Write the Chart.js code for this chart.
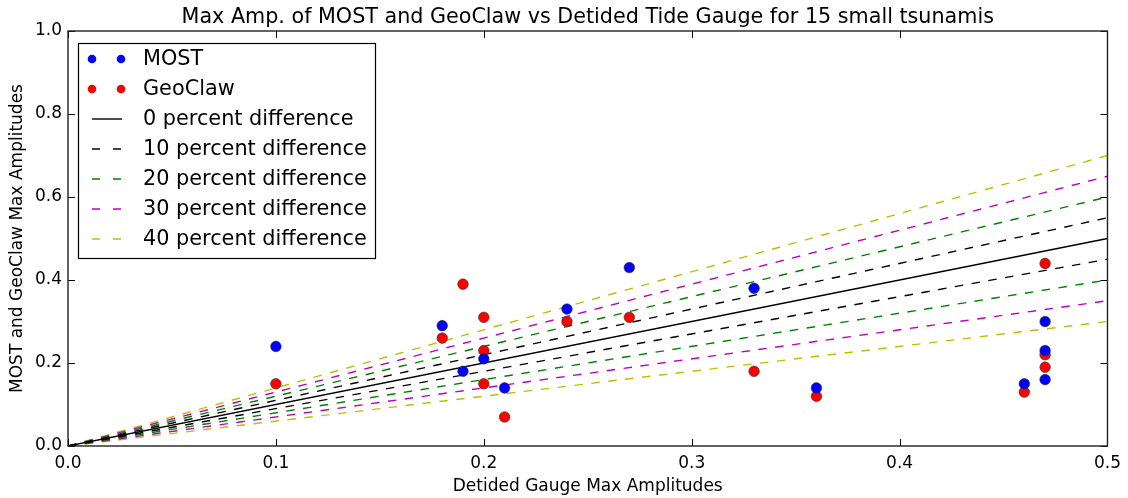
<!DOCTYPE html>
<html>
<head>
<meta charset="utf-8">
<script src="https://cdn.jsdelivr.net/npm/chart.js@4.4.1/dist/chart.umd.min.js"></script>
<style>
  html, body { margin: 0; padding: 0; background: #fff; }
  #wrap { width: 1128px; height: 498px; }
</style>
</head>
<body>
<div id="wrap"><canvas id="ampChart" width="1128" height="498"></canvas></div>
<script>
// gauge amplitudes (x) and modelled amplitudes (y)
const mostX = [0.10, 0.18, 0.19, 0.20, 0.21, 0.24, 0.27, 0.33, 0.36, 0.46, 0.47, 0.47, 0.47];
const mostY = [0.24, 0.29, 0.18, 0.21, 0.14, 0.33, 0.43, 0.38, 0.14, 0.15, 0.30, 0.23, 0.16];
const geoX = [0.10, 0.18, 0.19, 0.20, 0.20, 0.20, 0.21, 0.24, 0.27, 0.33, 0.36, 0.46, 0.47, 0.47, 0.47];
const geoY = [0.15, 0.26, 0.39, 0.31, 0.23, 0.15, 0.07, 0.30, 0.31, 0.18, 0.12, 0.13, 0.44, 0.22, 0.19];

// reference lines: start at origin, end values at x = 0.5
const lineX = [0, 0.5];
const percents = [0, 10, 20, 30, 40];
const upperEnd = [0.50, 0.55, 0.60, 0.65, 0.70];
const lowerEnd = [0.50, 0.45, 0.40, 0.35, 0.30];
const lineColors = ['#000000', '#000000', '#008000', '#bf00bf', '#bfbf00'];

const xTicks = [0, 0.1, 0.2, 0.3, 0.4, 0.5];
const yTicks = [0, 0.2, 0.4, 0.6, 0.8, 1.0];

const chartTitle = 'Max Amp. of MOST and GeoClaw vs Detided Tide Gauge for 15 small tsunamis';
const FONT = '"DejaVu Sans", sans-serif';

function pts(xs, ys) {
  return xs.map((x, i) => ({ x, y: ys[i] }));
}

const datasets = [
  {
    label: 'MOST',
    data: pts(mostX, mostY),
    backgroundColor: '#0000ff',
    borderColor: '#333333',
    borderWidth: 0.6,
    pointRadius: 5.3,
    showLine: false,
  },
  {
    label: 'GeoClaw',
    data: pts(geoX, geoY),
    backgroundColor: '#ff0000',
    borderColor: '#333333',
    borderWidth: 0.6,
    pointRadius: 5.3,
    showLine: false,
  },
];

percents.forEach((p, i) => {
  const dash = p === 0 ? [] : [8.5, 8.5];
  datasets.push({
    label: p + ' percent difference',
    data: pts(lineX, [0, upperEnd[i]]),
    borderColor: lineColors[i],
    borderWidth: 1.4,
    borderDash: dash,
    pointRadius: 0,
    showLine: true,
    inLegend: true,
  });
  if (p !== 0) {
    datasets.push({
      label: p + ' percent difference (lower)',
      data: pts(lineX, [0, lowerEnd[i]]),
      borderColor: lineColors[i],
      borderWidth: 1.4,
      borderDash: dash,
      pointRadius: 0,
      showLine: true,
      inLegend: false,
    });
  }
});

// frame + inward ticks on all four sides, title centred over the axes
const framePlugin = {
  id: 'frame',
  afterDatasetsDraw(chart) {
    const { ctx, chartArea: a, scales } = chart;
    ctx.save();
    ctx.strokeStyle = '#000';
    ctx.lineWidth = 1;
    xTicks.forEach(v => {
      const px = Math.round(scales.x.getPixelForValue(v)) + 0.5;
      ctx.beginPath();
      ctx.moveTo(px, a.bottom); ctx.lineTo(px, a.bottom - 7);
      ctx.moveTo(px, a.top); ctx.lineTo(px, a.top + 7);
      ctx.stroke();
    });
    yTicks.forEach(v => {
      const py = Math.round(scales.y.getPixelForValue(v)) + 0.5;
      ctx.beginPath();
      ctx.moveTo(a.left, py); ctx.lineTo(a.left + 7, py);
      ctx.moveTo(a.right, py); ctx.lineTo(a.right - 7, py);
      ctx.stroke();
    });
    ctx.lineWidth = 1.4;
    ctx.strokeStyle = '#222';
    ctx.strokeRect(a.left, a.top, a.right - a.left, a.bottom - a.top);

    ctx.fillStyle = '#000';
    ctx.font = '20.7px ' + FONT;
    ctx.textAlign = 'center';
    ctx.textBaseline = 'middle';
    ctx.fillText(chartTitle, (a.left + a.right) / 2, 18);
    ctx.restore();
  },
};

// matplotlib-like legend: two markers per scatter entry, short line sample for lines
const legendPlugin = {
  id: 'mplLegend',
  afterDraw(chart) {
    const { ctx, chartArea: a } = chart;
    const items = chart.data.datasets.filter(d => d.inLegend !== false);
    const x0 = a.left + 10, y0 = a.top + 12;
    const w = 297, h = 215, rowH = 30;
    ctx.save();
    ctx.fillStyle = '#fff';
    ctx.fillRect(x0, y0, w, h);
    ctx.strokeStyle = '#000';
    ctx.lineWidth = 1.2;
    ctx.strokeRect(x0 + 0.5, y0 + 0.5, w, h);
    ctx.font = '20.8px ' + FONT;
    ctx.textBaseline = 'middle';
    items.forEach((d, i) => {
      const cy = y0 + 16 + i * rowH;
      if (d.showLine) {
        ctx.strokeStyle = d.borderColor;
        ctx.lineWidth = 1.4;
        ctx.setLineDash(d.borderDash.length ? [8, 13] : []);
        ctx.beginPath();
        ctx.moveTo(x0 + 14, cy); ctx.lineTo(x0 + 44, cy);
        ctx.stroke();
        ctx.setLineDash([]);
      } else {
        [x0 + 14, x0 + 43].forEach(mx => {
          ctx.beginPath();
          ctx.arc(mx, cy, 4.3, 0, Math.PI * 2);
          ctx.fillStyle = d.backgroundColor;
          ctx.fill();
        });
      }
      ctx.fillStyle = '#000';
      ctx.fillText(d.label, x0 + 65, cy + 1);
    });
    ctx.restore();
  },
};

const ctx = document.getElementById('ampChart').getContext('2d');
new Chart(ctx, {
  type: 'scatter',
  data: { datasets },
  options: {
    responsive: false,
    animation: false,
    layout: { padding: { left: 0, right: 20, top: 31, bottom: 0 } },
    plugins: {
      legend: { display: false },
      tooltip: { enabled: false },
      title: { display: false },
    },
    scales: {
      x: {
        type: 'linear',
        min: 0,
        max: 0.5,
        afterFit: s => { s.height = 52; },
        afterBuildTicks: s => { s.ticks = xTicks.map(v => ({ value: v })); },
        grid: { display: false, drawTicks: false },
        border: { display: false },
        ticks: {
          padding: 7,
          color: '#000',
          font: { family: FONT, size: 17 },
          callback: v => v.toFixed(1),
        },
        title: {
          display: true,
          text: 'Detided Gauge Max Amplitudes',
          color: '#000',
          font: { family: FONT, size: 17 },
          padding: { top: 0, bottom: 1 },
        },
      },
      y: {
        type: 'linear',
        min: 0,
        max: 1,
        afterFit: s => { s.width = 68; },
        afterBuildTicks: s => { s.ticks = yTicks.map(v => ({ value: v })); },
        grid: { display: false, drawTicks: false },
        border: { display: false },
        ticks: {
          padding: 6,
          color: '#000',
          font: { family: FONT, size: 17 },
          callback: v => v.toFixed(1),
        },
        title: {
          display: true,
          text: 'MOST and GeoClaw Max Amplitudes',
          color: '#000',
          font: { family: FONT, size: 17 },
          padding: { top: 7, bottom: 0 },
        },
      },
    },
  },
  plugins: [framePlugin, legendPlugin],
});
</script>
</body>
</html>
